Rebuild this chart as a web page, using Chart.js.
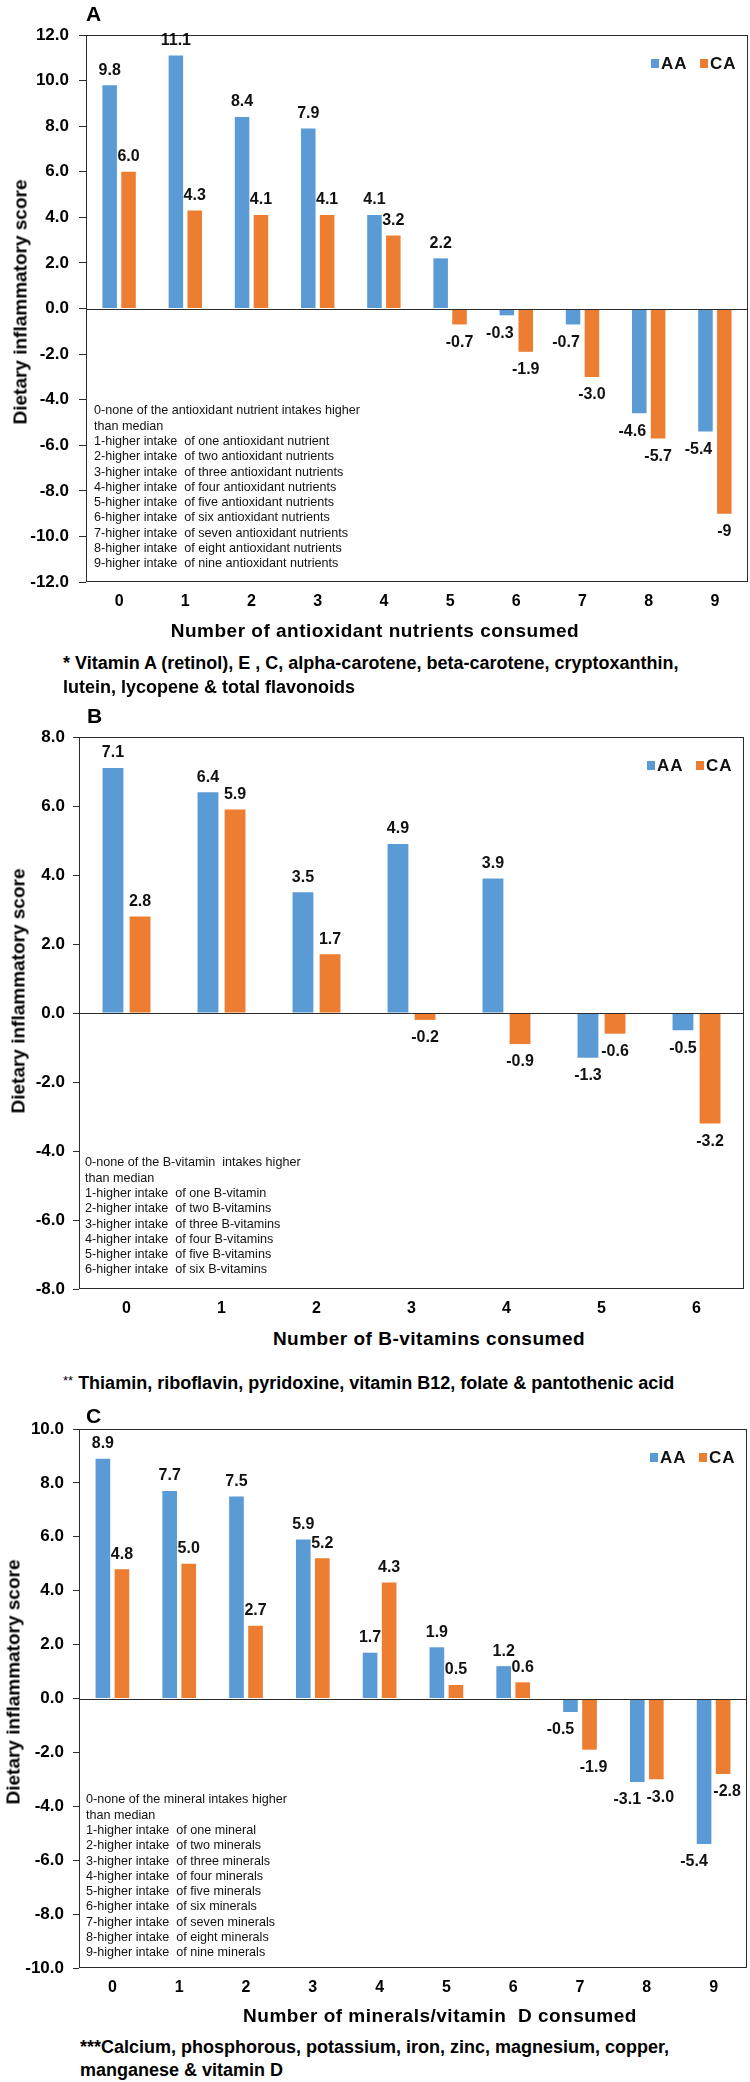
<!DOCTYPE html>
<html lang="en">
<head>
<meta charset="UTF-8">
<title>dietary inflammatory score</title>
<script src="https://cdn.jsdelivr.net/npm/chart.js@4.4.0/dist/chart.umd.min.js"></script>
<style>
    body { margin: 0; padding: 0; background: #fff; }
    #page { position: relative; width: 750px; height: 2082px; overflow: hidden; }
    #page canvas { position: absolute; left: 0; }
    .t {
        position: absolute;
        white-space: pre;
        font-family: "Liberation Sans", Arial, sans-serif;
        color: #000;
        line-height: 1;
    }
    .letter { font-size: 21px; font-weight: bold; transform: translate(0, -50%); }
    .ytitle { font-size: 19px; font-weight: bold; transform: translate(-50%, -50%) rotate(-90deg); }
    .xtitle { font-size: 19px; font-weight: bold; letter-spacing: 0.5px; transform: translate(-50%, -50%); }
    .foot { font-size: 18px; font-weight: bold; transform: translate(0, -50%); }
    .notes { font-size: 12.6px; line-height: 15.3px; color: #111; }
</style>
</head>
<body>
<div id="page">
    <canvas id="chartA" width="750" height="650" style="top:0"></canvas>
    <canvas id="chartB" width="750" height="620" style="top:700px"></canvas>
    <canvas id="chartC" width="750" height="620" style="top:1400px"></canvas>
</div>
<script>
// ---- data ----
const catsA = ['0', '1', '2', '3', '4', '5', '6', '7', '8', '9'];
const aaA = [9.8, 11.1, 8.4, 7.9, 4.1, 2.2, -0.3, -0.7, -4.6, -5.4];
const caA = [6.0, 4.3, 4.1, 4.1, 3.2, -0.7, -1.9, -3.0, -5.7, -9.0];

const catsB = ['0', '1', '2', '3', '4', '5', '6'];
const aaB = [7.1, 6.4, 3.5, 4.9, 3.9, -1.3, -0.5];
const caB = [2.8, 5.9, 1.7, -0.2, -0.9, -0.6, -3.2];

const catsC = ['0', '1', '2', '3', '4', '5', '6', '7', '8', '9'];
const aaC = [8.9, 7.7, 7.5, 5.9, 1.7, 1.9, 1.2, -0.5, -3.1, -5.4];
const caC = [4.8, 5.0, 2.7, 5.2, 4.3, 0.5, 0.6, -1.9, -3.0, -2.8];

const seriesNames = ['AA', 'CA'];
const yTitle = 'Dietary inflammatory score';

const notesA = [
    '0-none of the antioxidant nutrient intakes higher',
    'than median',
    '1-higher intake  of one antioxidant nutrient',
    '2-higher intake  of two antioxidant nutrients',
    '3-higher intake  of three antioxidant nutrients',
    '4-higher intake  of four antioxidant nutrients',
    '5-higher intake  of five antioxidant nutrients',
    '6-higher intake  of six antioxidant nutrients',
    '7-higher intake  of seven antioxidant nutrients',
    '8-higher intake  of eight antioxidant nutrients',
    '9-higher intake  of nine antioxidant nutrients'
];
const notesB = [
    '0-none of the B-vitamin  intakes higher',
    'than median',
    '1-higher intake  of one B-vitamin',
    '2-higher intake  of two B-vitamins',
    '3-higher intake  of three B-vitamins',
    '4-higher intake  of four B-vitamins',
    '5-higher intake  of five B-vitamins',
    '6-higher intake  of six B-vitamins'
];
const notesC = [
    '0-none of the mineral intakes higher',
    'than median',
    '1-higher intake  of one mineral',
    '2-higher intake  of two minerals',
    '3-higher intake  of three minerals',
    '4-higher intake  of four minerals',
    '5-higher intake  of five minerals',
    '6-higher intake  of six minerals',
    '7-higher intake  of seven minerals',
    '8-higher intake  of eight minerals',
    '9-higher intake  of nine minerals'
];

const blue = '#5B9BD5';
const orange = '#ED7D31';
const axisColor = '#2b2b2b';
const fontFam = '"Liberation Sans", Arial, sans-serif';

Chart.defaults.font.family = fontFam;
Chart.defaults.color = '#000';

// value labels, legend, box and zero line
const extras = {
    id: 'extras',
    afterDatasetsDraw(chart) {
        const ctx = chart.ctx;
        const a = chart.chartArea;
        const y = chart.scales.y;
        const o = chart.options.plugins.extras;
        ctx.save();

        ctx.strokeStyle = axisColor;
        ctx.lineWidth = 1;
        ctx.strokeRect(Math.round(a.left) + 0.5, Math.round(a.top) + 0.5,
            Math.round(a.right - a.left) - 1, Math.round(a.bottom - a.top) - 1);
        const z = Math.round(y.getPixelForValue(0)) + 0.5;
        ctx.beginPath();
        ctx.moveTo(a.left, z);
        ctx.lineTo(a.right, z);
        ctx.stroke();

        // data labels
        ctx.font = 'bold 16px ' + fontFam;
        ctx.fillStyle = '#111';
        ctx.textAlign = 'center';
        ctx.textBaseline = 'middle';
        chart.data.datasets.forEach((ds, i) => {
            const meta = chart.getDatasetMeta(i);
            meta.data.forEach((bar, j) => {
                const v = ds.data[j];
                let txt = v.toFixed(1);
                if (o.shortNine && i === 1 && j === 9) txt = '-9';
                let dx = 0;
                if (v < 0) dx = i === 0 ? o.negShift : o.negShiftCA;
                const ty = v >= 0 ? bar.y - 15 : bar.y + 18;
                ctx.fillText(txt, bar.x + dx, ty);
            });
        });

        // legend in the top right corner
        const ly = a.top + 28;
        const pos = [a.right - 97, a.right - 48];
        ctx.font = 'bold 17px ' + fontFam;
        ctx.textAlign = 'left';
        ctx.letterSpacing = '1px';
        chart.data.datasets.forEach((ds, i) => {
            ctx.fillStyle = ds.backgroundColor;
            ctx.fillRect(pos[i], ly - 4, 8, 9);
            ctx.fillStyle = '#111';
            ctx.fillText(ds.label, pos[i] + 10, ly + 1);
        });
        ctx.restore();
    }
};

function makePanel(id, cats, aa, ca, opt) {
    const ctx = document.getElementById(id).getContext('2d');
    return new Chart(ctx, {
        type: 'bar',
        data: {
            labels: cats,
            datasets: [
                { label: seriesNames[0], data: aa, backgroundColor: blue, categoryPercentage: 0.57, barPercentage: 0.77 },
                { label: seriesNames[1], data: ca, backgroundColor: orange, categoryPercentage: 0.57, barPercentage: 0.77 }
            ]
        },
        options: {
            responsive: false,
            animation: false,
            layout: { padding: { top: opt.top, right: opt.right, left: 0, bottom: 0 } },
            plugins: {
                legend: { display: false },
                tooltip: { enabled: false },
                extras: { shortNine: !!opt.shortNine, negShift: opt.negShift || 0, negShiftCA: opt.negShiftCA || 0 }
            },
            scales: {
                x: {
                    grid: { display: false, drawTicks: false },
                    border: { display: false },
                    ticks: { font: { size: 16, weight: 'bold' }, color: '#000', padding: 10 },
                    afterFit(scale) { scale.height = opt.xh; }
                },
                y: {
                    min: opt.min,
                    max: opt.max,
                    grid: { drawOnChartArea: false, drawTicks: true, tickLength: opt.tl, color: axisColor },
                    border: { display: false },
                    ticks: {
                        stepSize: 2,
                        padding: opt.pad,
                        font: { size: 17, weight: 'bold' },
                        color: '#000',
                        callback: v => v.toFixed(1)
                    },
                    afterFit(scale) { scale.width = opt.left; }
                }
            }
        },
        plugins: [extras]
    });
}

makePanel('chartA', catsA, aaA, caA, { top: 35, right: 2, xh: 68, left: 86, tl: 7, pad: 10, min: -12, max: 12, shortNine: true, negShift: -7 });
makePanel('chartB', catsB, aaB, caB, { top: 37, right: 6, xh: 31, left: 79, tl: 6, pad: 8, min: -8, max: 8 });
makePanel('chartC', catsC, aaC, caC, { top: 29, right: 3, xh: 52, left: 79, tl: 6, pad: 9, min: -10, max: 10, negShift: -10, negShiftCA: 4 });

// ---- text around the plots ----
const page = document.getElementById('page');
function addText(str, x, y, cls) {
    const d = document.createElement('div');
    d.className = 't ' + cls;
    d.textContent = str;
    d.style.left = x + 'px';
    d.style.top = y + 'px';
    page.appendChild(d);
    return d;
}

addText('A', 86, 13, 'letter');
addText('B', 87, 715, 'letter');
addText('C', 86, 1415, 'letter');

addText(yTitle, 20, 302, 'ytitle');
addText(yTitle, 18, 991, 'ytitle');
addText(yTitle, 13, 1682, 'ytitle');

addText('Number of antioxidant nutrients consumed', 375, 630, 'xtitle');
addText('Number of B-vitamins consumed', 429, 1338, 'xtitle');
addText('Number of minerals/vitamin  D consumed', 440, 2015, 'xtitle');

addText(notesA.join('\n'), 94, 411 - 7.6, 'notes');
addText(notesB.join('\n'), 85, 1163 - 7.6, 'notes');
addText(notesC.join('\n'), 86, 1800 - 7.6, 'notes');

addText('* Vitamin A (retinol), E , C, alpha-carotene, beta-carotene, cryptoxanthin,', 63, 663, 'foot');
addText('lutein, lycopene & total flavonoids', 63, 687, 'foot');
const fb = addText('', 63, 1383, 'foot');
fb.innerHTML = '<span style="font-weight:normal;font-size:13px;vertical-align:4px">**</span> Thiamin, riboflavin, pyridoxine, vitamin B12, folate &amp; pantothenic acid';
addText('***Calcium, phosphorous, potassium, iron, zinc, magnesium, copper,', 80, 2047, 'foot');
addText('manganese & vitamin D', 80, 2070, 'foot');
</script>
</body>
</html>
